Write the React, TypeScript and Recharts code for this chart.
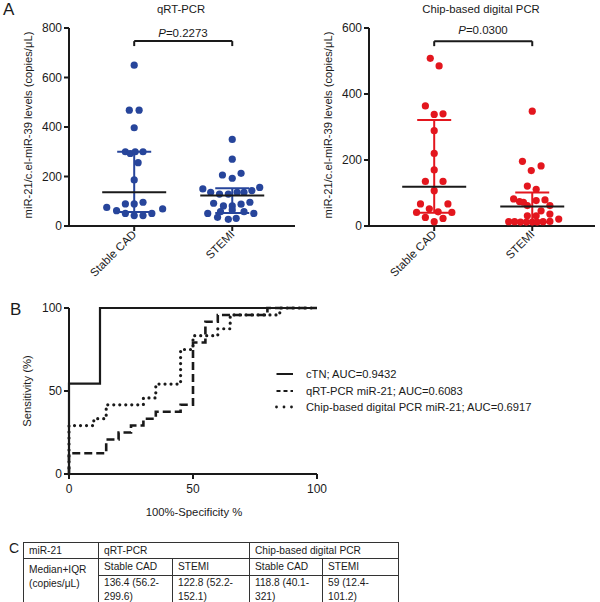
import React from 'react';
import {
  ScatterChart,
  Scatter,
  XAxis,
  YAxis,
  ErrorBar,
  ReferenceLine,
  LineChart,
  Line,
  Legend,
  Customized,
} from 'recharts';

const FONT = '"Liberation Sans", Arial, Helvetica, sans-serif';
const INK = '#1a1a1a';
const BLUE = '#27459b';
const RED = '#e3161e';

// categories
const groups = ['Stable CAD', 'STEMI'];

// qRT-PCR, copies/uL (jitter = horizontal spread in category units)
const qrtStable = [650, 468, 468, 397, 300, 293, 300, 300, 256, 186, 75, 89, 89, 96, 62, 51, 42, 42, 51, 69];
const qrtStableJitter = [0, -0.05, 0.05, 0, -0.09, -0.04, 0.01, 0.09, 0.04, 0, -0.28, -0.09, 0, 0.09, -0.18, -0.09, 0, 0.09, 0.18, 0.29];
const qrtStemi = [350, 270, 206, 193, 213, 150, 136, 129, 129, 136, 136, 143, 156, 92, 81, 81, 88, 96, 51, 58, 65, 58, 51, 35, 27, 31];
const qrtStemiJitter = [0, 0, -0.1, 0, 0.09, -0.3, -0.22, -0.13, -0.04, 0.05, 0.12, 0.2, 0.28, -0.19, -0.09, 0, 0.09, 0.18, -0.25, -0.12, 0, 0.12, 0.22, -0.15, -0.04, 0.04];
const qrtMedian = [136.4, 122.8];
const qrtIqr = [[56.2, 299.6], [52.2, 152.1]];

// chip-based digital PCR
const chipStable = [508, 485, 364, 338, 340, 289, 220, 170, 135, 135, 107, 67, 67, 41, 52, 43, 41, 26, 13, 23];
const chipStableJitter = [-0.04, 0.05, -0.09, 0, 0.09, 0, 0, 0, -0.09, 0.09, 0, -0.14, 0.14, -0.18, -0.05, 0.04, 0.18, -0.09, 0, 0.09];
const chipStemi = [348, 196, 182, 168, 121, 111, 82, 74, 72, 77, 79, 62, 62, 46, 31, 31, 36, 21, 13, 13, 12, 12, 12, 12, 13, 14];
const chipStemiJitter = [0, -0.1, 0.09, -0.01, -0.05, 0.04, -0.19, -0.13, -0.09, 0.04, 0.13, -0.05, 0.18, 0.09, -0.05, 0.04, 0.18, 0.27, -0.24, -0.18, -0.12, -0.06, 0, 0.05, 0.11, 0.18];
const chipMedian = [118.8, 59];
const chipIqr = [[40.1, 321], [12.4, 101.2]];

const qrtTicks = [0, 200, 400, 600, 800];
const chipTicks = [0, 200, 400, 600];
const pValues = ['0.2273', '0.0300'];
const qrtBracket = [747, 727];
const chipBracket = [560, 545];

// ROC curves: (100%-specificity, sensitivity) corner points
const ctnFpr = [0, 0, 12.5, 100];
const ctnTpr = [0, 54.5, 100, 100];
const qrtRocFpr = [0, 0, 15, 20, 25, 30, 35, 45, 50, 55, 60, 80, 100];
const qrtRocTpr = [0, 12.5, 20.8, 25, 29.2, 33.3, 37.5, 41.7, 79.2, 91.7, 95.8, 100, 100];
const chipRocFpr = [0, 0, 10, 15, 30, 35, 45, 50, 60, 65, 85, 100];
const chipRocTpr = [0, 29.2, 33.3, 41.7, 45.8, 54.2, 75, 83.3, 87.5, 95.8, 100, 100];
const rocLabels = [
  'cTN; AUC=0.9432',
  'qRT-PCR miR-21; AUC=0.6083',
  'Chip-based digital PCR miR-21; AUC=0.6917',
];
const rocTicks = [0, 50, 100];

// table
const tableHead = ['miR-21', 'qRT-PCR', 'Chip-based digital PCR'];
const tableRowLabel = ['Median+IQR', '(copies/μL)'];
const colWidths = [75, 74, 77, 73, 76];

const X_DOMAIN: [number, number] = [0.335, 2.64];

const toPoints = (vals: number[], jit: number[], g: number) =>
  vals.map((v, i) => ({ x: g + 1 + jit[i], y: v }));
const toSummary = (med: number[], iqr: number[][]) =>
  med.map((m, i) => ({ x: i + 1, y: m, err: [m - iqr[i][0], iqr[i][1] - m] }));
const toXY = (xs: number[], ys: number[]) => xs.map((x, i) => ({ x, y: ys[i] }));

const axisStyle = { stroke: INK, strokeWidth: 2 };

const CatTick = (props: any) => {
  const { x, y, payload } = props;
  return (
    <text
      transform={`translate(${x + 3},${y + 2}) rotate(-45)`}
      textAnchor="end"
      fontSize={11.5}
      fill={INK}
      fontFamily={FONT}
    >
      {groups[Math.round(payload.value) - 1]}
    </text>
  );
};

const PanelText = ({ title, p, pY }: any) => (
  <g fontFamily={FONT} fill={INK}>
    <text x={181} y={13} textAnchor="middle" fontSize={11.3}>{title}</text>
    <text x={183} y={pY} textAnchor="middle" fontSize={11.5}>
      <tspan fontStyle="italic">P</tspan>={p}
    </text>
    <text
      transform="translate(28,125) rotate(-90)"
      textAnchor="middle"
      dominantBaseline="central"
      fontSize={11.2}
    >
      miR-21/c.el-miR-39 levels (copies/μL)
    </text>
  </g>
);

interface PanelProps {
  title: string;
  stable: number[];
  stableJ: number[];
  stemi: number[];
  stemiJ: number[];
  median: number[];
  iqr: number[][];
  color: string;
  ticks: number[];
  bracket: number[];
  p: string;
  pY: number;
}

const DotPanel: React.FC<PanelProps> = ({ title, stable, stableJ, stemi, stemiJ, median, iqr, color, ticks, bracket, p, pY }) => {
  const dot = (s: any) => <circle cx={s.cx} cy={s.cy} r={3.6} fill={color} />;
  const medianLine = (s: any) => (
    <line x1={s.cx - 32} x2={s.cx + 32} y1={s.cy} y2={s.cy} stroke={INK} strokeWidth={2} />
  );
  return (
    <ScatterChart width={300} height={290} margin={{ top: 28, right: 5, bottom: 0, left: 0 }}>
      <XAxis
        type="number"
        dataKey="x"
        domain={X_DOMAIN}
        ticks={[1, 2]}
        height={64}
        tickSize={5}
        tick={<CatTick />}
        axisLine={axisStyle}
        tickLine={axisStyle}
        allowDataOverflow
      />
      <YAxis
        type="number"
        dataKey="y"
        domain={[0, ticks[ticks.length - 1]]}
        ticks={ticks}
        width={69}
        tickSize={5}
        tick={{ fontSize: 12, fill: INK, fontFamily: FONT }}
        axisLine={axisStyle}
        tickLine={axisStyle}
      />
      <Scatter data={toPoints(stable, stableJ, 0)} shape={dot} isAnimationActive={false} />
      <Scatter data={toPoints(stemi, stemiJ, 1)} shape={dot} isAnimationActive={false} />
      <Scatter data={toSummary(median, iqr)} shape={medianLine} isAnimationActive={false}>
        <ErrorBar dataKey="err" direction="y" width={17} stroke={color} strokeWidth={2} />
      </Scatter>
      <ReferenceLine segment={[{ x: 1, y: bracket[0] }, { x: 2, y: bracket[0] }]} stroke={INK} strokeWidth={2} ifOverflow="visible" />
      <ReferenceLine segment={[{ x: 1, y: bracket[0] }, { x: 1, y: bracket[1] }]} stroke={INK} strokeWidth={2} ifOverflow="visible" />
      <ReferenceLine segment={[{ x: 2, y: bracket[0] }, { x: 2, y: bracket[1] }]} stroke={INK} strokeWidth={2} ifOverflow="visible" />
      <Customized component={<PanelText title={title} p={p} pY={pY} />} />
    </ScatterChart>
  );
};

const rocSeries = [
  { name: rocLabels[0], data: toXY(ctnFpr, ctnTpr), dash: undefined, width: 2.2, cap: 'butt' },
  { name: rocLabels[1], data: toXY(qrtRocFpr, qrtRocTpr), dash: '8 4', width: 2.6, cap: 'butt' },
  { name: rocLabels[2], data: toXY(chipRocFpr, chipRocTpr), dash: '0 6', width: 3.2, cap: 'round' },
];
const legendDash = [undefined, '4 3', '0 7.5'];

const RocLegend = () => (
  <div style={{ fontFamily: FONT, fontSize: 11.2, color: INK }}>
    {rocSeries.map((s, i) => (
      <div key={s.name} style={{ display: 'flex', alignItems: 'center', height: 16.5 }}>
        <svg width={22} height={10}>
          <line
            x1={1.5}
            x2={18}
            y1={5}
            y2={5}
            stroke={INK}
            strokeWidth={i === 2 ? 2.8 : 2}
            strokeDasharray={legendDash[i]}
            strokeLinecap={s.cap as any}
          />
        </svg>
        <span style={{ marginLeft: 9, whiteSpace: 'nowrap' }}>{s.name}</span>
      </div>
    ))}
  </div>
);

const RocText = () => (
  <g fontFamily={FONT} fill={INK} fontSize={11.3}>
    <text transform="translate(27,151) rotate(-90)" textAnchor="middle" dominantBaseline="central">
      Sensitivity (%)
    </text>
    <text x={194} y={276} textAnchor="middle">100%-Specificity %</text>
  </g>
);

const RocPanel = () => (
  <LineChart width={600} height={300} margin={{ top: 68, right: 283, bottom: 26, left: 0 }}>
    <XAxis
      type="number"
      dataKey="x"
      domain={[0, 100]}
      ticks={rocTicks}
      height={40}
      tickSize={5}
      tickMargin={5}
      tick={{ fontSize: 12, fill: INK, fontFamily: FONT }}
      axisLine={axisStyle}
      tickLine={axisStyle}
    />
    <YAxis
      type="number"
      domain={[0, 100]}
      ticks={rocTicks}
      width={69}
      tickSize={5}
      tick={{ fontSize: 12, fill: INK, fontFamily: FONT }}
      axisLine={axisStyle}
      tickLine={axisStyle}
    />
    {rocSeries.map((s) => (
      <Line
        key={s.name}
        name={s.name}
        data={s.data}
        dataKey="y"
        type="stepAfter"
        stroke={INK}
        strokeWidth={s.width}
        strokeDasharray={s.dash}
        strokeLinecap={s.cap as any}
        dot={false}
        activeDot={false}
        isAnimationActive={false}
      />
    ))}
    <Legend
      content={<RocLegend />}
      layout="horizontal"
      align="center"
      verticalAlign="middle"
      wrapperStyle={{ left: 275, top: 126, width: 320, height: 50 }}
    />
    <Customized component={<RocText />} />
  </LineChart>
);

const cell: React.CSSProperties = {
  border: '1px solid #333',
  padding: '0 0 0 5px',
  lineHeight: '13.5px',
  verticalAlign: 'middle',
  whiteSpace: 'nowrap',
  overflow: 'hidden',
};

const valueCells = [
  [qrtMedian[0], qrtIqr[0]],
  [qrtMedian[1], qrtIqr[1]],
  [chipMedian[0], chipIqr[0]],
  [chipMedian[1], chipIqr[1]],
] as [number, number[]][];

const StatsTable = () => (
  <table
    style={{
      position: 'absolute',
      left: 23,
      top: 542,
      width: 375,
      borderCollapse: 'collapse',
      tableLayout: 'fixed',
      fontFamily: FONT,
      fontSize: 10.2,
      color: INK,
      border: '1.5px solid #222',
    }}
  >
    <colgroup>
      {colWidths.map((w, i) => (
        <col key={i} style={{ width: w }} />
      ))}
    </colgroup>
    <tbody>
      <tr>
        <td style={{ ...cell, height: 15 }}>{tableHead[0]}</td>
        <td style={cell} colSpan={2}>{tableHead[1]}</td>
        <td style={cell} colSpan={2}>{tableHead[2]}</td>
      </tr>
      <tr>
        <td style={{ ...cell, verticalAlign: 'top', paddingTop: 4 }} rowSpan={2}>
          {tableRowLabel[0]}
          <br />
          {tableRowLabel[1]}
        </td>
        {[0, 1, 0, 1].map((g, i) => (
          <td key={i} style={{ ...cell, height: 16 }}>{groups[g]}</td>
        ))}
      </tr>
      <tr>
        {valueCells.map(([m, q], i) => (
          <td key={i} style={{ ...cell, height: 24 }}>
            {`${m} (${q[0]}-`}
            <br />
            {`${q[1]})`}
          </td>
        ))}
      </tr>
    </tbody>
  </table>
);

const letter = (t: string, left: number, top: number, size: number) => (
  <div style={{ position: 'absolute', left, top, fontSize: size, fontFamily: FONT, color: INK, lineHeight: 1 }}>{t}</div>
);

export default function App() {
  return (
    <div style={{ position: 'absolute', left: 0, top: 0, width: 600, height: 602, background: '#fff', overflow: 'hidden' }}>
      <div style={{ position: 'absolute', left: 0, top: 0 }}>
        <DotPanel
          title="qRT-PCR"
          stable={qrtStable}
          stableJ={qrtStableJitter}
          stemi={qrtStemi}
          stemiJ={qrtStemiJitter}
          median={qrtMedian}
          iqr={qrtIqr}
          color={BLUE}
          ticks={qrtTicks}
          bracket={qrtBracket}
          p={pValues[0]}
          pY={36.5}
        />
      </div>
      <div style={{ position: 'absolute', left: 300, top: 0 }}>
        <DotPanel
          title="Chip-based digital PCR"
          stable={chipStable}
          stableJ={chipStableJitter}
          stemi={chipStemi}
          stemiJ={chipStemiJitter}
          median={chipMedian}
          iqr={chipIqr}
          color={RED}
          ticks={chipTicks}
          bracket={chipBracket}
          p={pValues[1]}
          pY={33.5}
        />
      </div>
      <div style={{ position: 'absolute', left: 0, top: 240 }}>
        <RocPanel />
      </div>
      {letter('A', 3, 1, 17)}
      {letter('B', 10, 301, 17)}
      {letter('C', 9, 541, 14)}
      <StatsTable />
    </div>
  );
}
